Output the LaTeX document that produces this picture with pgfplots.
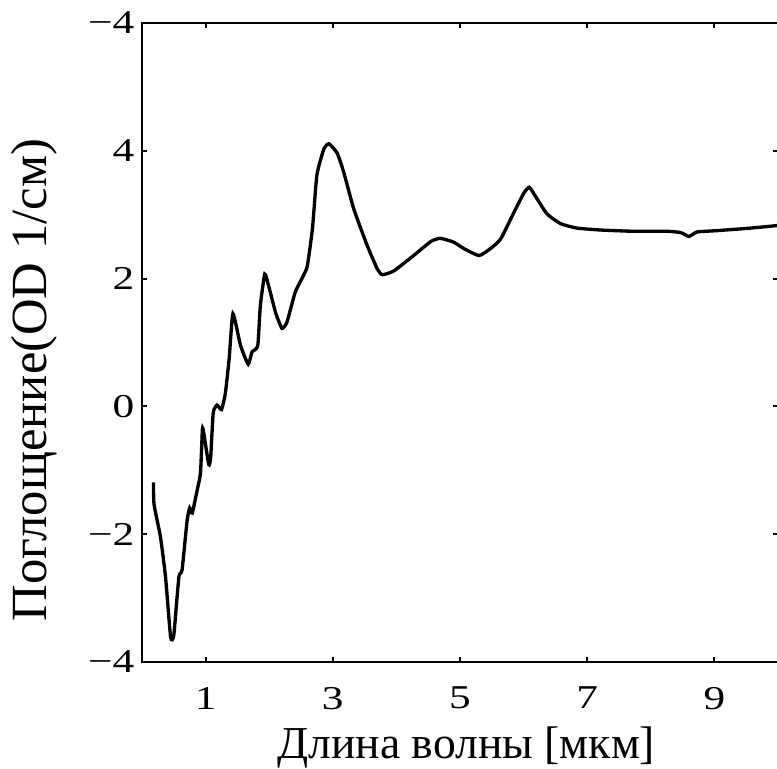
\documentclass[border=0pt]{standalone}
\usepackage{fontspec}
\setmainfont{Liberation Serif}
\newfontfamily\tickfont[FakeStretch=1.3]{Liberation Serif}
\usepackage{pgfplots}
\pgfplotsset{compat=1.18}

\begin{document}
\begin{tikzpicture}
  \begin{axis}[
      scale only axis,
      width=190.8pt, height=191.7pt,
      xmin=0, xmax=10,
      ymin=-4, ymax=6,
      xtick={1,3,5,7,9},
      ytick={-4,-2,0,2,4,6},
      yticklabels={−4,−2,0,2,4,−4},
      tick align=inside,
      major tick length=1.5pt,
      axis line style={line width=0.6pt},
      every tick/.style={black, line width=0.6pt},
      tick label style={font=\tickfont\fontsize{10}{12}\selectfont},
      /pgf/number format/assume math mode=true,
      xticklabel style={yshift=-4pt},
      yticklabel style={xshift=1.2pt},
      xlabel={Длина волны [мкм]},
      ylabel={Поглощение(OD 1/см)},
      xlabel style={font=\fontsize{13.7}{15}\selectfont,
        at={(rel axis cs:0.51,0)}, anchor=base, yshift=-29.1pt},
      ylabel style={font=\fontsize{15.2}{17}\selectfont,
        at={([xshift=-22pt]rel axis cs:0,0.441)}, rotate=0, anchor=south},
    ]
    % absorption spectrum
    \addplot[black, line width=1.0pt, smooth, tension=0.3] coordinates {
      (0.18,-1.19) (0.19,-1.54) (0.29,-2.04) (0.37,-2.67) (0.45,-3.61)
      (0.50,-3.58) (0.58,-2.67) (0.63,-2.56) (0.71,-1.78) (0.75,-1.59)
      (0.79,-1.67) (0.87,-1.30) (0.92,-1.04) (0.95,-0.36) (0.97,-0.41)
      (1.05,-0.91) (1.08,-0.80) (1.12,-0.10) (1.18,0.02) (1.25,-0.05)
      (1.31,0.20) (1.37,0.74) (1.43,1.45) (1.55,0.95) (1.67,0.66)
      (1.73,0.85) (1.82,0.95) (1.86,1.57) (1.93,2.07) (1.99,1.89)
      (2.10,1.47) (2.20,1.22) (2.28,1.32) (2.41,1.79) (2.54,2.05)
      (2.60,2.20) (2.68,2.78) (2.75,3.62) (2.86,4.03) (2.94,4.11)
      (3.07,3.96) (3.17,3.67) (3.33,3.09) (3.54,2.52) (3.70,2.15)
      (3.78,2.06) (3.96,2.12) (4.27,2.36) (4.54,2.58) (4.69,2.63)
      (4.90,2.57) (5.06,2.47) (5.30,2.36) (5.48,2.47) (5.64,2.62)
      (5.85,3.04) (6.00,3.33) (6.09,3.43) (6.21,3.25) (6.37,3.01)
      (6.58,2.86) (6.84,2.79) (7.21,2.76) (7.73,2.74) (8.26,2.74)
      (8.47,2.72) (8.60,2.66) (8.73,2.73) (9.04,2.75) (9.57,2.79)
      (9.99,2.83)
    };
    \coordinate (LL) at (rel axis cs:0,0);
    \coordinate (UR) at (rel axis cs:1,1);
  \end{axis}
  \pgfresetboundingbox
  \useasboundingbox ([xshift=-42.6pt,yshift=-32.1pt]LL) rectangle ([xshift=-0.3pt,yshift=6.9pt]UR);
\end{tikzpicture}
\end{document}
